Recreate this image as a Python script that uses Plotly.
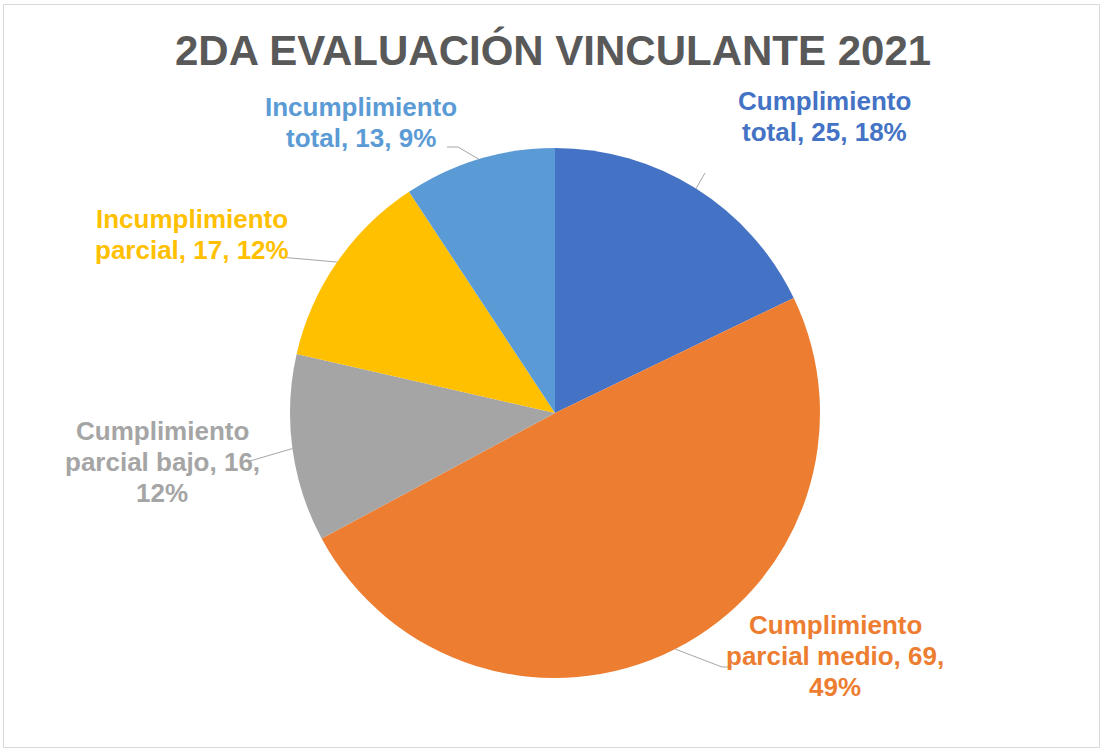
import math
import textwrap
import plotly.graph_objects as go

# ---- data ----
categories = ["Cumplimiento total", "Cumplimiento parcial medio", "Cumplimiento parcial bajo",
              "Incumplimiento parcial", "Incumplimiento total"]
values = [25, 69, 16, 17, 13]
title_text = "2DA EVALUACIÓN VINCULANTE 2021"

# ---- style ----
colors = ["#4472C4", "#ED7D31", "#A5A5A5", "#FFC000", "#5B9BD5"]
W, H = 1103, 750
CX, CY, R = 555, 413, 265
FONT = "Arial, Liberation Sans, sans-serif"
LABEL_SIZE = 26
LINE_H = 31
label_centers = [(824, 117), (835, 656), (162, 462), (192, 234), (361, 123)]
leader_tails = [[(705, 173)], [(722, 667), (732, 667)], [(250, 461)], [(280, 257)],
                [(458, 147), (447, 147)]]
LEADER_COLOR = "#A6A6A6"


def px2paper(x, y):
    return x / W, 1 - y / H


# percentages rounded so that they add up to 100 (largest remainder)
total = sum(values)
raw = [v * 100 / total for v in values]
pcts = [math.floor(r) for r in raw]
rest = 100 - sum(pcts)
for i in sorted(range(len(raw)), key=lambda i: raw[i] - pcts[i], reverse=True)[:rest]:
    pcts[i] += 1

fig = go.Figure(go.Pie(
    labels=categories, values=values, sort=False, direction="clockwise", rotation=0,
    marker=dict(colors=colors, line=dict(width=0)),
    textinfo="none", hoverinfo="label+value+percent", showlegend=False,
    domain=dict(x=[(CX - R) / W, (CX + R) / W], y=[1 - (CY + R) / H, 1 - (CY - R) / H]),
))

annotations = []
shapes = []
cum = 0
for i, (cat, v) in enumerate(zip(categories, values)):
    mid = (cum + v / 2) / total * 2 * math.pi
    cum += v
    ex, ey = CX + R * math.sin(mid), CY - R * math.cos(mid)
    pts = [(ex, ey)] + leader_tails[i]
    path = "M " + " L ".join("{:.5f},{:.5f}".format(*px2paper(x, y)) for x, y in pts)
    shapes.append(dict(type="path", xref="paper", yref="paper", path=path,
                       line=dict(color=LEADER_COLOR, width=1)))
    text = f"{cat}, {v}, {pcts[i]}%"
    lines = textwrap.wrap(text, 18)
    tx, ty = label_centers[i]
    n = len(lines)
    for j, ln in enumerate(lines):
        y = ty + (j - (n - 1) / 2) * LINE_H
        ax_, ay_ = px2paper(tx, y)
        annotations.append(dict(text=f"<b>{ln}</b>", x=ax_, y=ay_, xref="paper", yref="paper",
                                xanchor="center", yanchor="middle", showarrow=False,
                                font=dict(family=FONT, size=LABEL_SIZE, color=colors[i])))

# chart frame
x0, y0 = px2paper(3.5, 4.5)
x1, y1 = px2paper(1099.5, 747.5)
shapes.append(dict(type="rect", xref="paper", yref="paper", x0=x0, y0=y1, x1=x1, y1=y0,
                   line=dict(color="#D9D9D9", width=1), layer="below"))

annotations.append(dict(text=f"<b>{title_text}</b>", x=553 / W, y=1 - 50 / H, xref="paper", yref="paper",
                        xanchor="center", yanchor="middle", showarrow=False,
                        font=dict(family=FONT, size=42, color="#595959")))

fig.update_layout(width=W, height=H, margin=dict(l=0, r=0, t=0, b=0),
                  paper_bgcolor="white", plot_bgcolor="white",
                  annotations=annotations, shapes=shapes)

fig.write_html("out.html", config={"displayModeBar": False},
               post_script="document.body.style.margin='0';")
